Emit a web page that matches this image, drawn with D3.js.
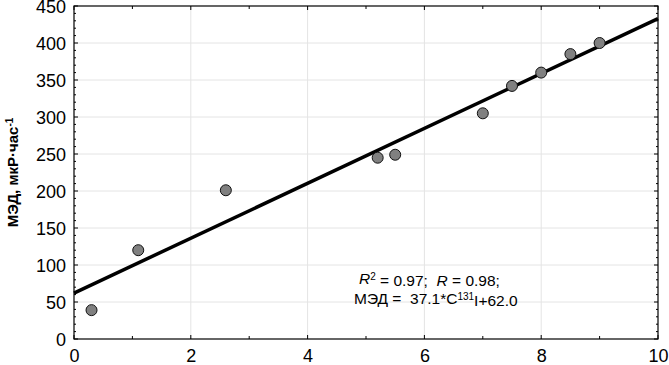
<!DOCTYPE html>
<html>
<head>
<meta charset="utf-8">
<script src="https://cdn.jsdelivr.net/npm/d3@7"></script>
<style>
body { margin: 0; background: #fff; }
svg { font-family: "Liberation Sans", Arial, sans-serif; }
.grid-line { stroke: #e4e4e4; stroke-width: 1; }
text { white-space: pre; }
</style>
</head>
<body>
<div class="content"></div>
<script>
const W = 669, H = 365;
const MARGIN = {top: 6, right: 11, bottom: 26, left: 74};
const SVGWIDTH = W - MARGIN.left - MARGIN.right;
const SVGHEIGHT = H - MARGIN.top - MARGIN.bottom;

// data
const concentration = [0.3, 1.1, 2.6, 5.2, 5.5, 7.0, 7.5, 8.0, 8.5, 9.0];
const doseRate = [39, 120, 201, 245, 249, 305, 342, 360, 385, 400];
const fitSlope = 37.1, fitIntercept = 62.0;
const xTicks = [0, 2, 4, 6, 8, 10];
const yTicks = [0, 50, 100, 150, 200, 250, 300, 350, 400, 450];

const svg = d3.select(".content").append("svg")
  .attr("width", W).attr("height", H)
  .append("g").attr("transform", "translate(" + MARGIN.left + "," + MARGIN.top + ")");

let x = d3.scaleLinear().domain([0, 10]).range([0, SVGWIDTH]);
let y = d3.scaleLinear().domain([0, 450]).range([SVGHEIGHT, 0]);

// grid
svg.append("g").selectAll("line").data(xTicks.slice(1, -1)).join("line")
  .attr("class", "grid-line")
  .attr("x1", d => x(d)).attr("x2", d => x(d)).attr("y1", 0).attr("y2", SVGHEIGHT);
svg.append("g").selectAll("line").data(yTicks.slice(1, -1)).join("line")
  .attr("class", "grid-line")
  .attr("y1", d => y(d)).attr("y2", d => y(d)).attr("x1", 0).attr("x2", SVGWIDTH);

// frame ticks (major + minor), inward
const tick = (g, x1, y1, x2, y2) => g.append("line")
  .attr("x1", x1).attr("y1", y1).attr("x2", x2).attr("y2", y2)
  .attr("stroke", "#000").attr("stroke-width", 1);
const ticksG = svg.append("g");
d3.range(0, 11, 1).forEach(v => {
  let len = v % 2 === 0 ? 4 : 3;
  tick(ticksG, x(v), SVGHEIGHT, x(v), SVGHEIGHT - len);
  tick(ticksG, x(v), 0, x(v), len);
});
d3.range(0, 451, 10).forEach(v => {
  let len = v % 50 === 0 ? 4 : 2;
  tick(ticksG, 0, y(v), len, y(v));
  tick(ticksG, SVGWIDTH, y(v), SVGWIDTH - len, y(v));
});

svg.append("rect").attr("width", SVGWIDTH).attr("height", SVGHEIGHT)
  .attr("fill", "none").attr("stroke", "#000").attr("stroke-width", 1.2);

// axis labels
let xAxis = d3.axisBottom(x).tickValues(xTicks).tickSize(0).tickPadding(10);
let yAxis = d3.axisLeft(y).tickValues(yTicks).tickSize(0).tickPadding(8);
let xg = svg.append("g").attr("transform", "translate(0," + SVGHEIGHT + ")").call(xAxis);
let yg = svg.append("g").call(yAxis);
[xg, yg].forEach(g => {
  g.select(".domain").remove();
  g.selectAll("text").style("font-size", "18px").style("font-family", "Liberation Sans, Arial, sans-serif").attr("fill", "#000");
});
yg.selectAll("text").attr("dy", "0.36em");

// fit line
let line = d3.line().x(d => x(d)).y(d => y(fitIntercept + fitSlope * d));
svg.append("path").datum([0, 10]).attr("d", line)
  .attr("fill", "none").attr("stroke", "#000").attr("stroke-width", 3.5);

// points
svg.append("g").selectAll("circle").data(concentration).join("circle")
  .attr("cx", d => x(d)).attr("cy", (d, i) => y(doseRate[i]))
  .attr("r", 5.5).attr("fill", "#808080").attr("stroke", "#111").attr("stroke-width", 1);

// y label
let yl = svg.append("text")
  .attr("transform", "translate(" + (-56) + "," + (SVGHEIGHT / 2) + ") rotate(-90)")
  .attr("text-anchor", "middle").style("font-size", "15px").style("font-weight", "bold");
yl.append("tspan").text("МЭД, мкР·час");
yl.append("tspan").attr("dy", "-0.5em").style("font-size", "10px").text("-1");

// annotation
let a1 = svg.append("text").attr("x", 285).attr("y", 278).style("font-size", "15.5px");
a1.append("tspan").style("font-style", "italic").text("R");
a1.append("tspan").attr("dy", "-0.45em").style("font-size", "10px").text("2");
a1.append("tspan").attr("dy", "0.45em").text(" = 0.97;  ");
a1.append("tspan").style("font-style", "italic").text("R");
a1.append("tspan").text(" = 0.98;");
let a2 = svg.append("text").attr("x", 280).attr("y", 298).style("font-size", "15.5px");
a2.append("tspan").text("МЭД =  37.1*C");
a2.append("tspan").attr("dy", "-0.45em").style("font-size", "10px").text("131");
a2.append("tspan").attr("dy", "0.45em").text("I+62.0");
</script>
</body>
</html>
